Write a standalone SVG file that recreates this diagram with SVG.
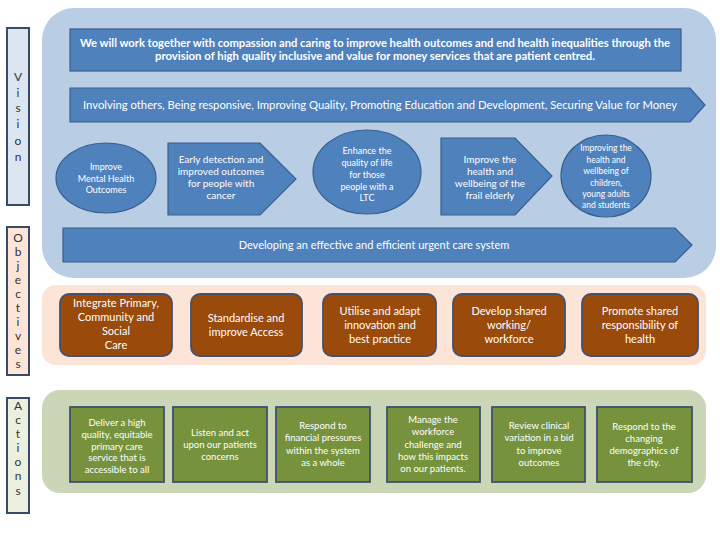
<svg xmlns="http://www.w3.org/2000/svg" width="720" height="540" viewBox="0 0 720 540">
<style>
.lbl{stroke:#3a4a6b;stroke-width:2}
.vs{fill:#4f81bd;stroke:#3a5f8c;stroke-width:1.2}
.ob{fill:#9a4a0b;stroke:#435270;stroke-width:1.8}
.ac{fill:#77923c;stroke:#3e5070;stroke-width:1.8}
text{font-family:Lato,"Open Sans","Liberation Sans",sans-serif;fill:#fff;text-anchor:middle}
.lt{fill:#333;font-size:12px}
.t1{font-size:11px;font-weight:bold}
.t2{font-size:10px}
.t3{font-size:9px}
.t6{font-size:8.5px}
.t4{font-size:11px}
.t5{font-size:9.5px}
</style>
<rect width="720" height="540" fill="#fff"/>
<g id="panels">
<rect x="42" y="8" width="674" height="270" rx="32" fill="#b9cde5"/>
<rect x="42" y="285" width="664" height="80" rx="14" fill="#fce4d6"/>
<rect x="42" y="390" width="664" height="103" rx="18" fill="#cad6b6"/>
</g>
<g id="label-vision">
<rect class="lbl" x="7" y="28" width="22" height="177" fill="#dce6f2"/>
<text class="lt" x="18" y="81">V</text><text class="lt" x="18" y="97">i</text><text class="lt" x="18" y="112">s</text><text class="lt" x="18" y="128">i</text><text class="lt" x="18" y="145">o</text><text class="lt" x="18" y="161">n</text>
</g>
<g id="label-objectives">
<rect class="lbl" x="7" y="227" width="22" height="148" fill="#fce4d6"/>
<text class="lt" x="18" y="242">O</text><text class="lt" x="18" y="256">b</text><text class="lt" x="18" y="270">j</text><text class="lt" x="18" y="284">e</text><text class="lt" x="18" y="298">c</text><text class="lt" x="18" y="312">t</text><text class="lt" x="18" y="326">i</text><text class="lt" x="18" y="340">v</text><text class="lt" x="18" y="354">e</text><text class="lt" x="18" y="368">s</text>
</g>
<g id="label-actions">
<rect class="lbl" x="7" y="398" width="22" height="115" fill="#ebf1de"/>
<text class="lt" x="18" y="410">A</text><text class="lt" x="18" y="424">c</text><text class="lt" x="18" y="438">t</text><text class="lt" x="18" y="452">i</text><text class="lt" x="18" y="466">o</text><text class="lt" x="18" y="480">n</text><text class="lt" x="18" y="495">s</text>
</g>
<g id="vision-statement">
<rect class="vs" x="70" y="29" width="611" height="42"/>
<text class="t1" x="375" y="47" textLength="590" lengthAdjust="spacingAndGlyphs">We will work together with compassion and caring to improve health outcomes and end health inequalities through the</text>
<text class="t1" x="375" y="60" textLength="440" lengthAdjust="spacingAndGlyphs">provision of high quality inclusive and value for money services that are patient centred.</text>
</g>
<g id="values">
<polygon class="vs" points="70,88 690,88 705,105 690,122 70,122"/>
<text class="t1" x="380" y="109" textLength="594" lengthAdjust="spacingAndGlyphs" style="font-weight:normal">Involving others, Being responsive, Improving Quality, Promoting Education and Development, Securing Value for Money</text>
</g>
<g id="obj-mental-health">
<ellipse class="vs" cx="106" cy="178" rx="50" ry="35"/>
<text class="t3" x="106" y="170">Improve</text><text class="t3" x="106" y="182">Mental Health</text><text class="t3" x="106" y="193">Outcomes</text>
</g>
<g id="obj-cancer">
<polygon class="vs" points="168,143 260,143 296,179 260,215 168,215"/>
<text class="t2" x="221" y="163">Early detection and</text><text class="t2" x="221" y="175">improved outcomes</text><text class="t2" x="221" y="187">for people with</text><text class="t2" x="221" y="199">cancer</text>
</g>
<g id="obj-ltc">
<ellipse class="vs" cx="367" cy="172" rx="54" ry="42"/>
<text class="t3" x="367" y="154">Enhance the</text><text class="t3" x="367" y="166">quality of life</text><text class="t3" x="367" y="178">for those</text><text class="t3" x="367" y="190">people with a</text><text class="t3" x="367" y="201">LTC</text>
</g>
<g id="obj-elderly">
<polygon class="vs" points="441,138 515,138 552,176 515,215 441,215"/>
<text class="t2" x="490" y="163">Improve the</text><text class="t2" x="490" y="175">health and</text><text class="t2" x="490" y="187">wellbeing of  the</text><text class="t2" x="490" y="199">frail elderly</text>
</g>
<g id="obj-children">
<ellipse class="vs" cx="606" cy="176" rx="45" ry="41"/>
<text class="t6" x="606" y="151">Improving the</text><text class="t6" x="606" y="162.5">health and</text><text class="t6" x="606" y="174">wellbeing of</text><text class="t6" x="606" y="185.5">children,</text><text class="t6" x="606" y="197">young adults</text><text class="t6" x="606" y="208">and students</text>
</g>
<g id="urgent-care">
<polygon class="vs" points="63,228 675,228 692,245 675,262 63,262"/>
<text class="t4" x="374" y="249">Developing an effective and efficient urgent care system</text>
</g>
<g id="objective-1"><rect class="ob" x="60" y="294" width="112" height="62" rx="9"/>
<text class="t4" x="116" y="307">Integrate Primary,</text><text class="t4" x="116" y="321">Community and</text><text class="t4" x="116" y="335">Social</text><text class="t4" x="116" y="349">Care</text></g>
<g id="objective-2"><rect class="ob" x="191" y="294" width="111" height="62" rx="9"/>
<text class="t4" x="246" y="322">Standardise and</text><text class="t4" x="246" y="336">improve Access</text></g>
<g id="objective-3"><rect class="ob" x="323" y="294" width="113" height="62" rx="9"/>
<text class="t4" x="380" y="315">Utilise and adapt</text><text class="t4" x="380" y="329">innovation and</text><text class="t4" x="380" y="343">best practice</text></g>
<g id="objective-4"><rect class="ob" x="453" y="294" width="112" height="62" rx="9"/>
<text class="t4" x="509" y="315">Develop shared</text><text class="t4" x="509" y="329">working/</text><text class="t4" x="509" y="343">workforce</text></g>
<g id="objective-5"><rect class="ob" x="582" y="294" width="116" height="62" rx="9"/>
<text class="t4" x="640" y="315">Promote shared</text><text class="t4" x="640" y="329">responsibility of</text><text class="t4" x="640" y="343">health</text></g>
<g id="action-1"><rect class="ac" x="70" y="407" width="94" height="75"/>
<text class="t5" x="117" y="426">Deliver a high</text><text class="t5" x="117" y="438">quality, equitable</text><text class="t5" x="117" y="450">primary care</text><text class="t5" x="117" y="461">service that is</text><text class="t5" x="117" y="473">accessible to all</text></g>
<g id="action-2"><rect class="ac" x="173" y="407" width="94" height="75"/>
<text class="t5" x="220" y="436">Listen and act</text><text class="t5" x="220" y="448">upon our patients</text><text class="t5" x="220" y="460">concerns</text></g>
<g id="action-3"><rect class="ac" x="276" y="407" width="94" height="75"/>
<text class="t5" x="323" y="429">Respond to</text><text class="t5" x="323" y="441">financial pressures</text><text class="t5" x="323" y="454">within the system</text><text class="t5" x="323" y="466">as a whole</text></g>
<g id="action-4"><rect class="ac" x="387" y="407" width="93" height="75"/>
<text class="t5" x="433" y="423">Manage the</text><text class="t5" x="433" y="435">workforce</text><text class="t5" x="433" y="448">challenge and</text><text class="t5" x="433" y="460">how this impacts</text><text class="t5" x="433" y="472">on our patients.</text></g>
<g id="action-5"><rect class="ac" x="492" y="407" width="93" height="75"/>
<text class="t5" x="539" y="429">Review clinical</text><text class="t5" x="539" y="441">variation in a bid</text><text class="t5" x="539" y="454">to improve</text><text class="t5" x="539" y="466">outcomes</text></g>
<g id="action-6"><rect class="ac" x="597" y="407" width="95" height="75"/>
<text class="t5" x="644" y="430">Respond to the</text><text class="t5" x="644" y="442">changing</text><text class="t5" x="644" y="454">demographics of</text><text class="t5" x="644" y="466">the city.</text></g>
<g id="connectors"></g>
</svg>
